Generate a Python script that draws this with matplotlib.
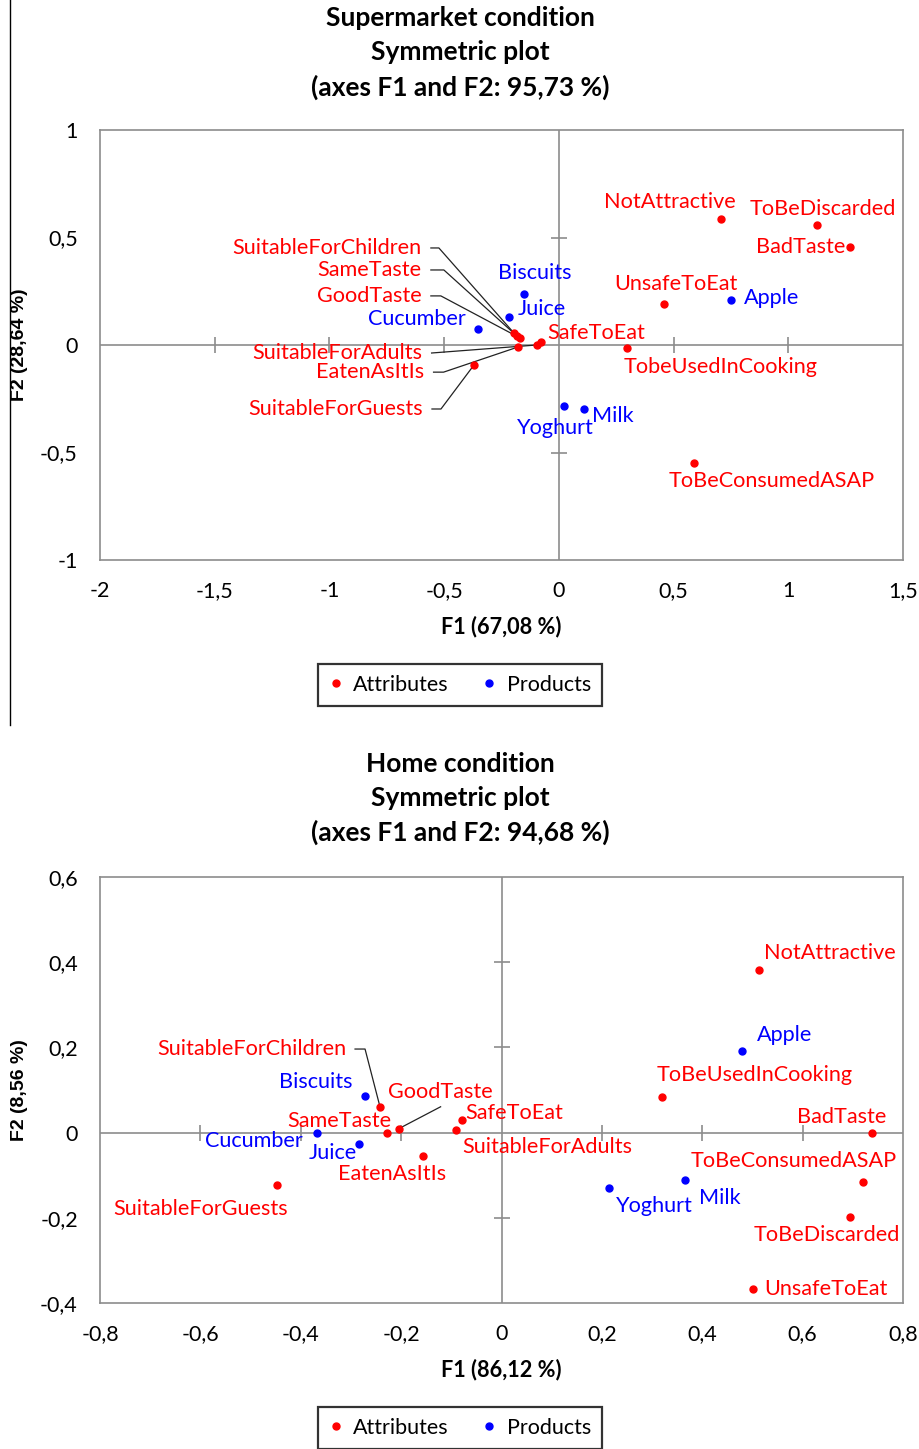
import numpy as np
import matplotlib
matplotlib.use("Agg")
import matplotlib.pyplot as plt
from matplotlib.lines import Line2D

plt.rcParams['font.family'] = ['Lato', 'DejaVu Sans']

RED = '#FF0000'
BLUE = '#0000FF'
FRAME = '#8C8C8C'

# Supermarket condition (F1, F2)
sm_attr_names = ['NotAttractive', 'ToBeDiscarded', 'BadTaste', 'UnsafeToEat', 'TobeUsedInCooking',
                 'SafeToEat', 'ToBeConsumedASAP', 'SuitableForChildren', 'SameTaste', 'GoodTaste',
                 'SuitableForAdults', 'EatenAsItIs', 'SuitableForGuests']
sm_attr_f1 = [0.706, 1.125, 1.268, 0.458, 0.296, -0.078, 0.59, -0.196, -0.183, -0.17, -0.097, -0.18, -0.37]
sm_attr_f2 = [0.586, 0.558, 0.456, 0.19, -0.014, 0.013, -0.547, 0.056, 0.042, 0.033, 0.0, -0.01, -0.093]

sm_prod_names = ['Biscuits', 'Juice', 'Cucumber', 'Yoghurt', 'Milk', 'Apple']
sm_prod_f1 = [-0.151, -0.217, -0.354, 0.023, 0.108, 0.75]
sm_prod_f2 = [0.236, 0.129, 0.074, -0.284, -0.299, 0.209]

# Home condition (F1, F2)
home_attr_names = ['NotAttractive', 'ToBeUsedInCooking', 'BadTaste', 'ToBeConsumedASAP', 'ToBeDiscarded',
                   'UnsafeToEat', 'SuitableForChildren', 'GoodTaste', 'SameTaste', 'SafeToEat',
                   'SuitableForAdults', 'EatenAsItIs', 'SuitableForGuests']
home_attr_f1 = [0.513, 0.32, 0.739, 0.721, 0.694, 0.501, -0.242, -0.205, -0.228, -0.078, -0.09, -0.156, -0.448]
home_attr_f2 = [0.381, 0.083, 0.0, -0.116, -0.198, -0.366, 0.06, 0.009, 0.0, 0.029, 0.005, -0.054, -0.122]

home_prod_names = ['Biscuits', 'Cucumber', 'Juice', 'Yoghurt', 'Milk', 'Apple']
home_prod_f1 = [-0.272, -0.367, -0.284, 0.215, 0.365, 0.48]
home_prod_f2 = [0.087, 0.0, -0.027, -0.13, -0.112, 0.191]

sm_xticks = [-2, -1.5, -1, -0.5, 0, 0.5, 1, 1.5]
sm_yticks = [-1, -0.5, 0, 0.5, 1]
home_xticks = [-0.8, -0.6, -0.4, -0.2, 0, 0.2, 0.4, 0.6, 0.8]
home_yticks = [-0.4, -0.2, 0, 0.2, 0.4, 0.6]

# label placement: offsets in pixels from the point (label centre)
sm_offsets = {
    'NotAttractive': (-51, 17), 'ToBeDiscarded': (6, 16), 'BadTaste': (-49, 0),
    'UnsafeToEat': (12, 20), 'TobeUsedInCooking': (94, -19), 'SafeToEat': (55, 9),
    'ToBeConsumedASAP': (77, -18), 'Biscuits': (11, 21), 'Juice': (33, 8),
    'Cucumber': (-61, 10), 'Yoghurt': (-9, -22), 'Milk': (29, -7), 'Apple': (41, 2),
}
# leader labels: right edge offset, stub length
sm_leaders = {
    'SuitableForChildren': (-92, 85, 8), 'SameTaste': (-95, 66, 13), 'GoodTaste': (-98, 42, 10),
    'SuitableForAdults': (-114, -8, 0), 'EatenAsItIs': (-93, -25, 10), 'SuitableForGuests': (-51, -44, 9),
}
home_offsets = {
    'NotAttractive': (71, 17), 'Apple': (42, 16), 'ToBeUsedInCooking': (93, 22), 'BadTaste': (-31, 16),
    'ToBeConsumedASAP': (-70, 21), 'ToBeDiscarded': (-23, -18), 'UnsafeToEat': (73, 0),
    'Yoghurt': (45, -18), 'Milk': (35, -18), 'SameTaste': (-48, 12), 'Biscuits': (-49, 14),
    'Cucumber': (-63, -8), 'Juice': (-26, -9), 'EatenAsItIs': (-31, -18), 'SafeToEat': (52, 7),
    'SuitableForAdults': (91, -17), 'SuitableForGuests': (-76, -24), 'GoodTaste': (42, 37),
}
home_leaders = {'SuitableForChildren': (-34, 58, 10)}
home_pointers = {'GoodTaste': (42, 22)}

W, H = 919, 1449
fig = plt.figure(figsize=(W / 100, H / 100), dpi=100)
LABEL_FS = 15.6


def fmt(v):
    s = ('%g' % v).replace('.', ',')
    return s


def panel(rect, xlim, ylim, xticks, yticks, attr, prod, offsets, leaders, pointers):
    ax = fig.add_axes(rect)
    ax.set_xlim(xlim)
    ax.set_ylim(ylim)
    for s in ax.spines.values():
        s.set_color(FRAME)
        s.set_linewidth(1.2)
    ax.set_xticks(xticks)
    ax.set_yticks(yticks)
    ax.set_xticklabels([fmt(v) for v in xticks])
    ax.set_yticklabels([fmt(v) for v in yticks])
    ax.tick_params(length=0, labelsize=15.5, pad=15)
    ax.tick_params(axis='y', pad=16)
    # centre cross with ticks
    ax.axhline(0, color=FRAME, lw=1.2, zorder=1)
    ax.axvline(0, color=FRAME, lw=1.2, zorder=1)
    xt = [v for v in xticks[1:-1] if v != 0]
    yt = [v for v in yticks[1:-1] if v != 0]
    ax.plot(xt, [0] * len(xt), ls='none', marker='|', ms=12, mew=1.2, color=FRAME, zorder=1)
    ax.plot([0] * len(yt), yt, ls='none', marker='_', ms=12, mew=1.2, color=FRAME, zorder=1)

    fig.canvas.draw()
    inv = ax.transData.inverted()
    for (names, f1, f2, col) in (attr + (RED,), prod + (BLUE,)):
        ax.plot(f1, f2, ls='none', marker='o', ms=5, color=col, zorder=3)
        for n, x, y in zip(names, f1, f2):
            if n in leaders:
                dx, dy, stub = leaders[n]
                ax.annotate(n, (x, y), xytext=(dx, dy), textcoords='offset pixels',
                            ha='right', va='center', color=col, fontsize=LABEL_FS)
                px, py = ax.transData.transform((x, y))
                pts = inv.transform([(px + dx + 9, py + dy), (px + dx + 9 + stub, py + dy), (px, py)])
                ax.plot(pts[:, 0], pts[:, 1], color='#222222', lw=0.9, zorder=2)
                continue
            dx, dy = offsets[n]
            ax.annotate(n, (x, y), xytext=(dx, dy), textcoords='offset pixels',
                        ha='center', va='center', color=col, fontsize=LABEL_FS)
            if n in pointers:
                lx, ly = pointers[n]
                px, py = ax.transData.transform((x, y))
                pts = inv.transform([(px + lx, py + ly), (px, py)])
                ax.plot(pts[:, 0], pts[:, 1], color='#222222', lw=0.9, zorder=2)
    return ax


def titles(lines, ys):
    for t, y in zip(lines, ys):
        fig.text(460 / W, 1 - y / H, t, ha='center', va='center', fontsize=19, fontweight='bold')


def legend(yc):
    handles = [Line2D([], [], ls='none', marker='o', ms=5, color=RED, label='Attributes'),
               Line2D([], [], ls='none', marker='o', ms=5, color=BLUE, label='Products')]
    lg = fig.legend(handles=handles, loc='center', bbox_to_anchor=(460 / W, 1 - yc / H), ncol=2,
                    fontsize=15.5, frameon=True, fancybox=False, handlelength=0.6, handletextpad=0.5,
                    columnspacing=1.6, borderpad=0.5, borderaxespad=0)
    lg.get_frame().set_edgecolor('black')
    lg.get_frame().set_linewidth(1.6)


# top panel
titles(['Supermarket condition', 'Symmetric plot', '(axes F1 and F2: 95,73 %)'], [18, 52, 87])
ax1 = panel([100 / W, 1 - 560 / H, 803 / W, 430 / H], (-2, 1.5), (-1, 1), sm_xticks, sm_yticks,
            (sm_attr_names, sm_attr_f1, sm_attr_f2), (sm_prod_names, sm_prod_f1, sm_prod_f2),
            sm_offsets, sm_leaders, {})
fig.text(501 / W, 1 - 627 / H, 'F1 (67,08 %)', ha='center', va='center', fontsize=15.6, fontweight='bold')
fig.text(20 / W, 1 - 345 / H, 'F2 (28,64 %)', ha='center', va='center', rotation=90, fontsize=14,
         fontweight='bold', family='Liberation Sans')
legend(685)

# bottom panel
titles(['Home condition', 'Symmetric plot', '(axes F1 and F2: 94,68 %)'], [764, 798, 832])
ax2 = panel([100 / W, 1 - 1303 / H, 803 / W, 426 / H], (-0.8, 0.8), (-0.4, 0.6), home_xticks, home_yticks,
            (home_attr_names, home_attr_f1, home_attr_f2), (home_prod_names, home_prod_f1, home_prod_f2),
            home_offsets, home_leaders, home_pointers)
fig.text(501 / W, 1 - 1370 / H, 'F1 (86,12 %)', ha='center', va='center', fontsize=15.6, fontweight='bold')
fig.text(20 / W, 1 - 1090 / H, 'F2 (8,56 %)', ha='center', va='center', rotation=90, fontsize=14,
         fontweight='bold', family='Liberation Sans')
legend(1428)

# left border line of the top figure
fig.add_artist(Line2D([10 / W, 10 / W], [1, 1 - 725 / H], color='black', lw=1))

fig.savefig('out.png', dpi=100)
